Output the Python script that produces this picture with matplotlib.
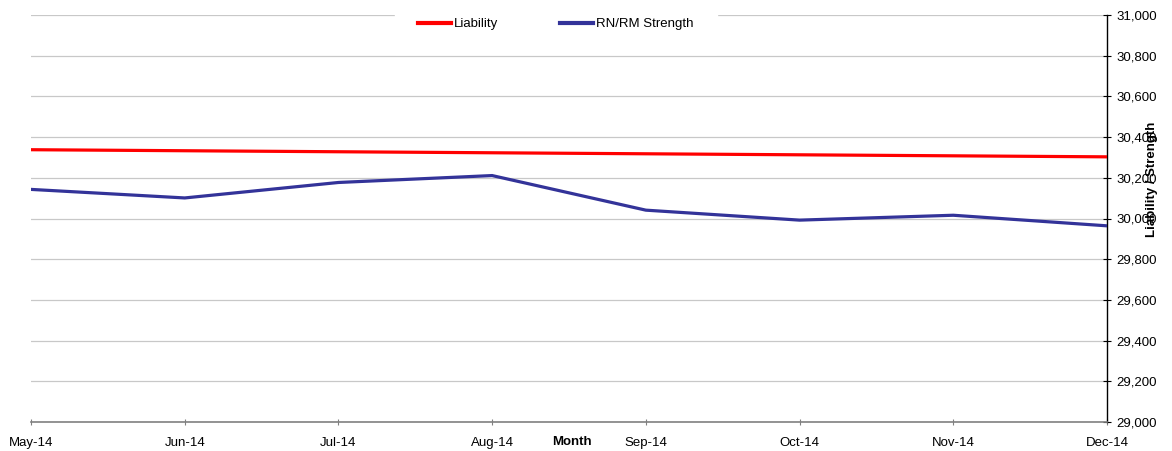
import matplotlib
matplotlib.use("Agg")
import matplotlib.pyplot as plt
from matplotlib.ticker import FuncFormatter, MultipleLocator

months = ["May-14", "Jun-14", "Jul-14", "Aug-14", "Sep-14", "Oct-14", "Nov-14", "Dec-14"]
liability = [30338, 30333, 30328, 30323, 30318, 30313, 30308, 30303]
strength = [30143, 30101, 30177, 30211, 30041, 29992, 30016, 29964]

plt.rcParams['font.family'] = ['Liberation Sans', 'DejaVu Sans']

fig = plt.figure(figsize=(11.72, 4.51), dpi=100)
ax = fig.add_axes([31/1172, 1 - 422/451, (1107-31)/1172, (422-15)/451])

x = list(range(len(months)))
ax.plot(x, liability, color='#ff0000', lw=2.3, label='Liability', zorder=3)
ax.plot(x, strength, color='#333399', lw=2.3, label='RN/RM Strength', zorder=3)

ax.set_xlim(0, len(months) - 1)
ax.set_ylim(29000, 31000)
ax.yaxis.set_major_locator(MultipleLocator(200))
ax.yaxis.set_major_formatter(FuncFormatter(lambda v, p: f"{int(v):,}"))
ax.yaxis.tick_right()
ax.set_xticks(x)
ax.set_xticklabels(months)
ax.grid(axis='y', color='#c8c8c8', lw=0.9, zorder=0)
ax.set_axisbelow(True)

for s in ['top', 'left']:
    ax.spines[s].set_visible(False)
ax.spines['right'].set_color('black')
ax.spines['right'].set_linewidth(1.0)
ax.spines['bottom'].set_color('#808080')
ax.spines['bottom'].set_linewidth(1.2)

ax.tick_params(axis='y', direction='inout', length=6, width=0.8, labelsize=9.5, pad=4, colors='black')
ax.tick_params(axis='x', direction='inout', length=5, width=0.8, labelsize=9.5, pad=8, color='#808080', labelcolor='black')

fig.text(572/1172, 1 - 442/451, 'Month', ha='center', va='center', fontsize=9.5, fontweight='bold')
fig.text(1152/1172, 1 - 179/451, 'Liability / Strength', ha='center', va='center', rotation=90,
         fontsize=9.5, fontweight='bold')

leg = ax.legend(loc='upper center', bbox_to_anchor=(556/1172, 1 - 10/451), bbox_transform=fig.transFigure,
                ncol=2, frameon=True, fontsize=9.5, handlelength=2.5, handletextpad=0.2, columnspacing=4.7,
                borderpad=0.6, borderaxespad=0.0)
leg.get_frame().set_edgecolor('white')
leg.get_frame().set_facecolor('white')
leg.get_frame().set_alpha(1.0)
leg.get_frame().set_boxstyle('square', pad=1.2)
for h in leg.get_lines():
    h.set_linewidth(3.0)

fig.savefig('out.png', dpi=100)
